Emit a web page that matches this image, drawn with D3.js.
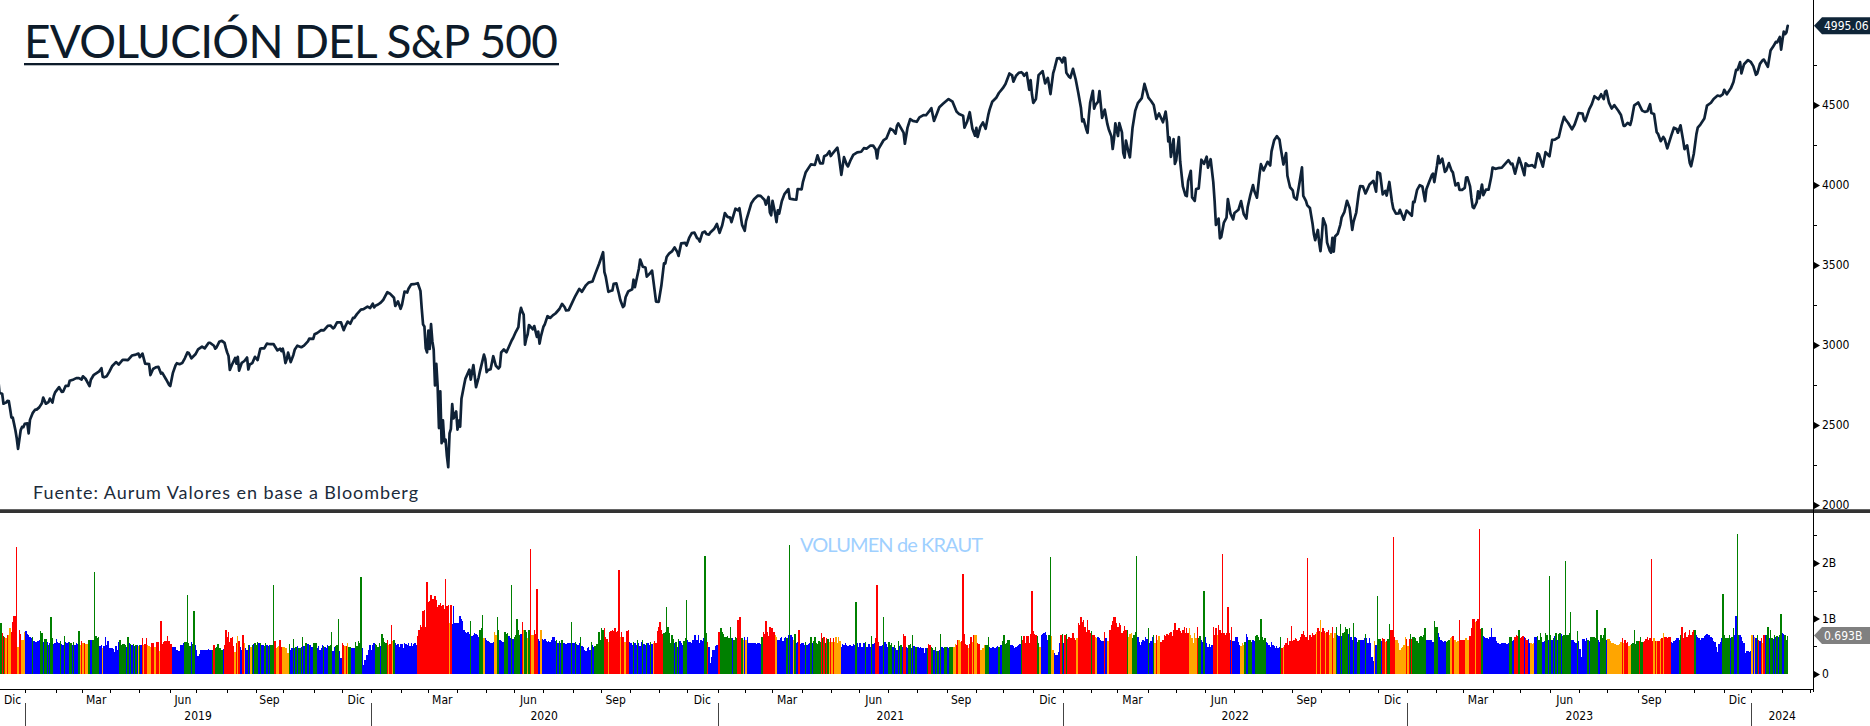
<!DOCTYPE html>
<html><head><meta charset="utf-8">
<script src="https://cdn.jsdelivr.net/npm/d3@7"></script>
<style>
html,body{margin:0;padding:0;background:#fff;overflow:hidden;}
svg{display:block;}
.ax text,.axt{font-family:"DejaVu Sans Condensed","Liberation Sans Narrow","DejaVu Sans",sans-serif;font-stretch:condensed;font-size:12px;fill:#000;}
</style></head><body>
<svg id="c" width="1870" height="726"></svg>
<script>
// ---------------- DATA ----------------
const chartTitle = "EVOLUCIÓN DEL S&P 500";
const sourceNote = "Fuente: Aurum Valores en base a Bloomberg";
const volumeTitle = "VOLUMEN de KRAUT";
const monthNames = ["Ene","Feb","Mar","Abr","May","Jun","Jul","Ago","Sep","Oct","Nov","Dic"];
const labeledMonths = [2,5,8,11];
const yearLabels = [2019,2020,2021,2022,2023,2024];
const priceTicks = [2000,2500,3000,3500,4000,4500];
const priceMinorTicks = [2250,2750,3250,3750,4250,4750];
const volumeTicks = [0,1,2];
const volumeTickLabels = ["0","1B","2B"];
const volumeMinorTicks = [0.5,1.5,2.5];
const lastPrice = 4995.06;
const lastVolume = 0.693;
const krautColors = {b:"#0000ff", g:"#008000", r:"#ff0000", o:"#ffa500"};

// S&P 500 closes, "MMDD:close"
const spx2018 = "1203:2790 1204:2700 1206:2695 1207:2633 1210:2637 1211:2640 1212:2651 1213:2650 1214:2600 1217:2546 1218:2546 1219:2507 1220:2467 1221:2417 1224:2351 1226:2468 1227:2488 1228:2486 1231:2507";
const spx2019 = "0102:2510 0103:2448 0104:2532 0108:2574 0110:2597 0111:2596 0115:2610 0117:2636 0118:2671 0122:2633 0124:2643 0125:2665 0129:2640 0130:2681 0131:2704 0205:2737 0207:2707 0208:2708 0212:2745 0214:2745 0215:2776 0220:2785 0222:2793 0226:2793 0228:2784 0301:2804 0305:2789 0308:2743 0311:2783 0313:2811 0315:2822 0319:2833 0321:2855 0322:2801 0325:2798 0327:2805 0329:2834 0402:2867 0405:2893 0409:2878 0412:2907 0416:2907 0418:2905 0423:2934 0426:2940 0430:2946 0501:2924 0503:2946 0507:2884 0510:2881 0513:2812 0515:2850 0517:2860 0521:2864 0523:2822 0524:2826 0529:2783 0531:2752 0603:2744 0605:2826 0607:2873 0610:2886 0612:2880 0614:2887 0618:2917 0620:2954 0621:2950 0625:2917 0628:2942 0702:2973 0705:2990 0709:2979 0712:3014 0715:3014 0718:2995 0719:2977 0722:2986 0724:3020 0726:3026 0730:3013 0731:2980 0801:2953 0802:2932 0805:2844 0807:2884 0809:2919 0812:2883 0813:2926 0814:2840 0816:2889 0820:2900 0822:2922 0823:2847 0826:2878 0828:2887 0830:2926 0903:2906 0905:2976 0906:2979 0910:2979 0912:3009 0913:3007 0917:3005 0919:3006 0920:2992 0924:2966 0926:2977 0927:2962 0930:2977 1001:2940 1002:2887 1003:2910 1004:2952 1008:2893 1010:2938 1011:2970 1015:2996 1018:2986 1022:2996 1025:3023 1028:3040 1031:3038 1101:3067 1105:3075 1108:3093 1112:3092 1115:3120 1119:3122 1121:3104 1122:3110 1126:3141 1129:3141 1203:3093 1204:3113 1206:3146 1210:3133 1212:3169 1213:3169 1217:3193 1220:3221 1224:3224 1227:3240 1231:3231";
const spx2020 = "0102:3258 0103:3235 0106:3246 0108:3253 0110:3265 0114:3283 0117:3330 0121:3321 0124:3295 0127:3244 0129:3273 0131:3226 0203:3249 0205:3334 0207:3328 0210:3352 0212:3379 0214:3380 0219:3386 0221:3338 0224:3226 0225:3128 0226:3116 0227:2979 0228:2954 0302:3090 0303:2975 0304:3130 0305:3024 0306:2972 0309:2747 0310:2882 0311:2741 0312:2481 0313:2711 0316:2386 0317:2529 0318:2398 0319:2409 0320:2305 0323:2237 0324:2447 0325:2476 0326:2630 0327:2541 0331:2585 0401:2471 0402:2527 0403:2489 0406:2664 0408:2750 0409:2790 0414:2846 0415:2784 0417:2875 0421:2737 0423:2798 0424:2837 0429:2940 0430:2912 0501:2831 0504:2843 0506:2848 0508:2930 0512:2870 0514:2853 0515:2864 0518:2954 0520:2972 0522:2955 0526:2992 0528:3030 0529:3044 0602:3081 0604:3112 0605:3194 0608:3232 0609:3207 0610:3190 0611:3002 0612:3041 0615:3067 0616:3125 0619:3098 0622:3118 0624:3051 0625:3084 0626:3009 0629:3053 0701:3116 0702:3130 0706:3180 0708:3169 0710:3185 0714:3197 0717:3225 0721:3257 0723:3236 0724:3216 0728:3218 0731:3271 0804:3306 0807:3351 0811:3333 0814:3373 0818:3390 0821:3397 0825:3443 0828:3508 0902:3580 0903:3455 0904:3427 0908:3332 0910:3339 0911:3341 0914:3383 0916:3385 0918:3319 0921:3281 0923:3237 0924:3246 0925:3298 0929:3335 1002:3348 1005:3408 1006:3361 1009:3477 1012:3534 1014:3489 1016:3484 1019:3427 1022:3453 1023:3465 1026:3401 1028:3271 1030:3270 1103:3370 1105:3510 1106:3509 1109:3550 1111:3573 1113:3585 1117:3610 1119:3582 1120:3557 1124:3635 1127:3638 1130:3622 1202:3669 1204:3699 1208:3702 1210:3668 1211:3663 1214:3647 1216:3701 1218:3709 1221:3694 1223:3690 1224:3703 1229:3727 1231:3756";
const spx2021 = "0104:3701 0106:3748 0108:3824 0112:3801 0114:3796 0115:3768 0120:3852 0122:3841 0125:3855 0127:3751 0129:3714 0201:3774 0203:3830 0205:3886 0209:3911 0212:3934 0216:3932 0219:3906 0222:3877 0224:3925 0225:3829 0226:3811 0301:3901 0303:3820 0304:3768 0305:3842 0308:3821 0310:3898 0312:3943 0317:3974 0318:3915 0319:3913 0323:3910 0325:3909 0326:3975 0331:3973 0401:4020 0405:4078 0409:4129 0414:4125 0416:4185 0420:4135 0422:4135 0423:4180 0427:4187 0429:4211 0430:4181 0503:4193 0507:4233 0510:4189 0512:4063 0514:4174 0518:4128 0519:4116 0521:4156 0525:4188 0528:4204 0602:4208 0604:4230 0608:4227 0611:4247 0615:4246 0617:4222 0618:4166 0621:4224 0624:4267 0625:4281 0629:4291 0702:4352 0706:4343 0708:4321 0709:4370 0712:4385 0716:4327 0719:4258 0721:4359 0723:4412 0727:4401 0730:4395 0803:4423 0806:4437 0810:4436 0813:4468 0816:4480 0818:4400 0820:4442 0824:4486 0827:4509 0831:4523 0902:4537 0907:4521 0910:4459 0914:4443 0917:4433 0920:4358 0922:4395 0924:4455 0928:4352 0930:4308 1001:4357 1004:4300 1006:4363 1008:4391 1012:4351 1014:4438 1015:4471 1019:4520 1022:4545 1026:4575 1029:4605 1102:4631 1105:4697 1109:4685 1110:4646 1112:4683 1116:4701 1118:4705 1119:4698 1122:4683 1124:4701 1126:4595 1129:4655 1130:4567 1201:4513 1203:4538 1207:4687 1210:4712 1214:4635 1216:4669 1217:4620 1220:4568 1222:4697 1223:4726 1227:4791 1229:4793 1231:4766";
const spx2022 = "0103:4796 0104:4794 0105:4701 0107:4677 0110:4670 0112:4726 0114:4662 0118:4577 0120:4483 0121:4398 0124:4410 0126:4350 0127:4326 0128:4432 0131:4516 0202:4589 0203:4477 0204:4501 0208:4521 0209:4587 0210:4504 0211:4419 0215:4471 0217:4380 0218:4349 0222:4305 0223:4225 0224:4288 0225:4385 0301:4306 0302:4387 0304:4329 0307:4201 0308:4171 0309:4278 0311:4204 0314:4173 0316:4358 0318:4463 0322:4512 0325:4543 0329:4632 0401:4546 0405:4525 0407:4500 0411:4413 0413:4447 0418:4392 0420:4459 0421:4394 0422:4272 0425:4297 0426:4176 0428:4287 0429:4132 0502:4155 0504:4300 0505:4147 0509:3991 0511:3935 0512:3930 0513:4024 0517:4088 0518:3923 0520:3901 0523:3974 0525:3979 0527:4158 0531:4132 0602:4177 0603:4109 0607:4161 0609:4018 0610:3901 0613:3750 0615:3790 0616:3667 0617:3675 0621:3765 0623:3796 0624:3912 0628:3821 0630:3785 0701:3825 0706:3845 0708:3899 0712:3819 0714:3790 0715:3863 0719:3937 0721:3999 0722:3962 0726:3921 0728:4072 0729:4130 0802:4091 0805:4145 0809:4122 0810:4210 0812:4280 0816:4305 0818:4284 0819:4228 0823:4128 0825:4199 0826:4058 0830:3986 0901:3967 0902:3924 0906:3909 0908:4006 0912:4110 0913:3932 0915:3901 0916:3873 0920:3856 0922:3758 0923:3693 0926:3655 0928:3719 0929:3640 0930:3586 1003:3678 1004:3791 1006:3745 1007:3640 1011:3589 1012:3577 1013:3669 1014:3583 1017:3678 1019:3695 1021:3753 1024:3798 1026:3830 1028:3901 1101:3856 1103:3720 1104:3771 1108:3828 1110:3956 1111:3993 1115:3992 1117:3947 1118:3965 1122:4003 1125:4026 1129:3958 1130:4080 1202:4072 1206:3941 1208:3963 1209:3934 1213:4019 1215:3895 1216:3852 1220:3821 1222:3822 1223:3845 1228:3783 1230:3840";
const spx2023 = "0103:3825 0105:3808 0106:3895 0109:3893 0111:3970 0113:3999 0117:3991 0119:3899 0120:3973 0124:4017 0126:4060 0127:4071 0130:4018 0201:4120 0202:4180 0203:4136 0207:4164 0209:4082 0210:4090 0214:4137 0216:4090 0217:4079 0221:3997 0223:4012 0224:3970 0228:3970 0302:3982 0303:4046 0306:4048 0308:3992 0309:3919 0310:3862 0313:3856 0315:3892 0316:3960 0317:3917 0321:4003 0322:3937 0324:3971 0328:3971 0330:4051 0331:4109 0404:4101 0406:4105 0411:4109 0414:4137 0418:4155 0420:4130 0421:4133 0425:4071 0427:4136 0428:4169 0502:4120 0504:4061 0505:4136 0509:4119 0512:4124 0516:4110 0518:4198 0519:4192 0524:4115 0526:4205 0531:4180 0602:4282 0606:4283 0609:4299 0613:4369 0615:4426 0616:4410 0620:4389 0623:4348 0627:4378 0630:4450 0705:4446 0706:4411 0707:4399 0712:4472 0714:4505 0718:4555 0721:4536 0725:4567 0727:4537 0728:4582 0731:4589 0802:4513 0804:4478 0808:4499 0811:4464 0815:4437 0817:4370 0818:4370 0822:4388 0824:4376 0825:4406 0829:4497 0831:4508 0901:4516 0906:4465 0908:4457 0912:4461 0914:4505 0915:4450 0919:4444 0921:4330 0922:4320 0926:4274 0928:4300 0929:4288 1003:4229 1006:4308 1010:4358 1012:4350 1013:4327 1017:4373 1019:4278 1020:4224 1024:4248 1026:4137 1027:4117 1031:4194 1102:4318 1103:4358 1107:4378 1110:4415 1114:4496 1117:4514 1121:4538 1124:4559 1128:4555 1130:4568 1201:4595 1205:4567 1208:4604 1212:4644 1214:4720 1215:4719 1219:4768 1220:4698 1222:4755 1227:4781 1229:4770";
const spx2024 = "0102:4743 0104:4689 0105:4697 0109:4757 0111:4780 0112:4784 0117:4739 0119:4840 0123:4865 0125:4894 0126:4891 0130:4925 0131:4846 0201:4906 0202:4959 0205:4943 0206:4954 0207:4995.06";

// Daily volume (hundredths of a billion) with KRAUT colour class: b=blue g=green r=red o=orange
const kraut2018 = "g112 g85 g92 r73 g68 r67 o64 r70 o70 o82 r76 r94 r105 r105 r229 o49 r79 r72 o61 o62 o76";
const kraut2019 = "b77 b72 b70 b67 b64 g66 b60 b57 b58 b60 b62 g77 g74 b58 g63 g63 b58 g52 b55 g103 g65 b54 b56 " +
 "b63 b58 b55 g60 b54 b53 g68 b58 b55 b57 g57 g55 b52 g58 b52 b55 b54 g77 o52 r59 " +
 "o55 r56 o54 o54 g61 g61 b61 g61 g61 g184 g68 g64 g66 b51 b52 o46 b50 b66 b52 b60 b46 " +
 "b46 b46 b45 b40 b50 b43 b58 g61 g52 g54 g54 g52 b49 g67 b55 g54 b52 g54 b50 g53 b52 o51 " +
 "g53 b52 r64 o52 r54 r64 o52 o50 o49 r56 r56 o49 o48 r58 r57 o41 r95 r54 r58 r60 r60 r68 r60 " +
 "r54 r54 b49 b49 b49 b43 b42 b42 b52 b52 b55 g57 g57 g143 g55 g50 b57 g54 g114 b52 " +
 "b43 b32 b36 b43 b43 b43 b43 b43 b43 b45 b43 b43 g44 r53 g46 g49 g54 g46 g46 g44 b45 r53 r80 " +
 "r67 r76 r58 r64 r66 r50 o40 r55 o68 r59 b49 b43 r70 o55 b46 b43 g52 b53 o49 g53 b54 g55 " +
 "g52 g57 b56 g55 b53 b53 g50 g55 b52 g51 b52 g53 g53 g160 r60 o46 o48 o50 r61 r49 o49 " +
 "o49 o47 o46 o37 g54 b44 b46 g63 b46 g48 b50 g47 g47 b48 g67 b51 g56 g56 b54 g53 b52 b48 g56 " +
 "g55 g55 b46 b50 b43 b46 b52 g50 b48 b46 b52 g50 g52 g76 b41 b48 g50 g52 g99 b41 b29 " +
 "r55 r52 o50 r50 o56 g48 g48 b46 b46 b46 g58 g50 g60 g55 g175 b46 b16 b26 b34 b35 b43 b52";
const kraut2020 = "b43 b52 b56 g54 g52 g49 g55 b50 g72 g64 g58 g55 r61 o52 r54 r88 o60 g61 b55 b52 b54 b49 b54 " +
 "b54 b46 b55 b54 b52 b55 b50 b55 b50 b54 b55 b52 r68 r79 r88 r84 r114 r115 r85 r166 " +
 "r130 r132 r142 r135 r135 r140 r134 r121 r125 r128 r122 r124 r118 r172 r122 r124 o92 r125 b90 b123 b91 b92 " +
 "b92 b92 b105 b100 b96 b80 b76 b74 b75 b72 g96 b68 b70 b73 b72 b70 b66 g80 g83 g106 o64 b64 " +
 "b62 b60 b57 b55 b55 b58 o76 o70 g103 g79 b62 b60 b58 b58 g76 g72 g73 b68 b65 g160 b63 " +
 "g67 g70 g100 g80 g70 b72 r94 o79 g79 g75 o64 g79 r225 o70 o70 r79 r72 r153 b63 b60 o80 b63 " +
 "b62 b63 b60 b58 b60 b58 b62 b66 b66 b60 g61 b55 g60 b56 g62 b55 b55 b54 b56 b55 b56 g94 b56 " +
 "b56 g58 b54 b52 b55 g66 b50 b48 b44 b42 b46 b48 b44 g58 b52 b48 g50 g54 g54 g76 g62 " +
 "g83 g80 r82 r67 r63 o58 r76 r78 r80 r78 r82 r76 r78 r187 o66 r75 r67 o58 o58 r78 r80 b58 " +
 "b56 b52 g58 b55 b52 g61 b55 b50 b57 g61 b54 b52 g55 b55 b52 g58 b54 o55 r60 r56 r77 r85 " +
 "r94 r80 r72 g73 g75 g120 g85 g73 g56 g70 g63 b56 g57 b49 g63 b60 b55 b52 g60 g65 g133 " +
 "b61 b57 b58 b56 b61 b70 b70 b61 b70 b56 b62 b60 b64 g213 g73 r58 b48 b19 b30 b43 b43 b50 b52";
const kraut2021 = "r76 r76 g83 g75 g72 g66 g66 g69 g65 g85 g65 b64 g62 g67 g65 r97 r103 r103 g64 o62 b66 " +
 "o62 b66 b55 b56 b55 b56 b55 b56 b54 b55 b56 b54 g67 r76 r72 r95 r76 r68 r85 r82 " +
 "r82 r76 o70 o67 b61 b62 b64 b67 b60 b64 b67 g65 b70 g232 b70 b67 o62 g72 b55 b58 r79 b54 b55 " +
 "b55 b52 g58 b53 b54 b55 g67 b56 g59 g67 g55 g54 g59 g58 r73 g65 r67 g55 r64 g63 o58 r65 " +
 "o58 r65 o57 o67 o56 o67 o60 b49 b54 b52 b55 b52 b50 b53 b52 b50 b54 b52 g130 b56 b49 " +
 "b56 b49 b49 b55 g58 b49 b48 b54 b48 g69 b54 b55 r65 r160 r58 b50 b51 b52 g103 b58 b54 b49 " +
 "g58 g52 g55 b49 g52 b46 b44 g60 b50 g52 b49 r72 r68 b49 b46 g52 g54 b46 g70 b50 g49 g48 " +
 "b48 b46 b48 b46 b46 b38 b46 g46 r54 r52 g49 g46 b43 g49 b42 g42 b43 g72 b49 b46 g48 g48 " +
 "b49 b46 g48 g48 g48 o49 o54 r52 r61 o62 o58 r60 r180 r72 r54 r52 o46 r54 r66 o58 r70 o70 " +
 "o70 r56 r54 o44 o44 o47 o52 g52 g52 g66 b48 b46 b48 b48 b46 b49 b50 g49 b52 b52 g60 " +
 "g70 g54 g56 g61 g61 b53 b53 b50 b46 b49 b50 b52 b54 g68 r62 r68 r55 r69 r68 r55 r72 r150 " +
 "r77 r72 r70 g68 g56 o49 b70 b72 b73 b75 b70 b62 g70 g211 o68 o44 b37 b34 b34 b40 b56 r70 g72";
const kraut2022 = "b56 r70 g72 r63 r66 r64 r65 r73 r64 r62 o64 r91 r88 r103 r94 r97 r85 r76 r97 r80 r73 " +
 "g77 r70 r70 o67 o64 b67 b64 b62 b60 b60 r76 b65 o60 o60 r79 r88 r95 r103 r102 r92 " +
 "r85 r91 r88 r73 r77 r86 r80 g79 o66 o72 o74 g64 g70 g75 g213 b67 b58 b52 b58 b61 b60 b67 b63 " +
 "g82 b55 b60 b67 g70 o55 r70 o61 o68 r58 r58 r62 r70 r68 r72 r70 r73 r75 r68 r80 r91 " +
 "r80 r80 r82 r78 r73 r79 r84 r73 r82 r73 o82 o70 o64 o56 o73 o64 r84 g64 g68 b62 b58 g150 " +
 "b67 b55 b49 b54 b49 b52 r85 r70 r82 o70 r88 r80 r73 r217 r73 r70 r73 r121 r73 b61 r84 b60 " +
 "b60 b66 b66 b58 b52 o50 o55 o52 g58 b72 b67 g61 g62 g58 b61 b60 g68 g70 g66 g62 g100 " +
 "g67 g61 g64 b58 b55 b52 b49 b58 b52 b50 b46 b50 b46 b48 g67 r47 o49 r52 r55 r64 r52 r60 r86 " +
 "r60 r62 r64 r63 r59 r62 r67 r72 r78 r70 r66 r209 r61 r70 r67 r73 r70 r72 o76 r82 r78 o97 " +
 "r75 r82 r78 o73 r75 r80 o70 o73 r85 o64 o73 g84 b70 b68 g90 b68 g73 g76 g84 g81 b72 " +
 "g82 b66 b61 g91 b67 b64 g58 g61 b61 b62 b62 b64 g72 b64 b55 b64 b55 b30 b23 o60 b52 g141 " +
 "g63 g63 b60 r64 r63 o58 r59 g63 g90 r79 r80 r246 r67 o61 o61 o55 o43 o46 o49 o52 o67 r63";
const kraut2023 = "o50 r63 g72 r63 g67 g67 g64 g60 g56 g66 g68 g67 g70 g82 b61 b61 b62 b61 b61 b58 g95 g85 " +
 "g85 b73 b66 b61 b60 b58 b60 g58 g60 g62 o64 o67 r68 o61 o61 o58 o60 r97 r61 r61 " +
 "r61 r61 o64 o61 o62 r68 r82 r100 r99 o94 r96 r100 r262 r81 g82 b69 b66 b64 b64 b63 b66 b82 b66 " +
 "b66 b66 b60 b55 b54 b54 b56 b55 b55 b55 b54 b55 g66 g67 b60 b62 r67 r70 r68 g79 " +
 "r64 r67 r68 b67 r64 r62 b63 b55 o55 o54 o55 b67 b66 g68 g61 g73 g67 b58 b60 g73 g70 b62 g176 " +
 "g70 b61 g64 b69 g73 b61 g72 g73 b72 g68 g70 g203 g70 g70 g74 g111 b61 b61 b58 b55 g77 b60 " +
 "b45 b30 b63 b63 b60 b64 g61 b60 g66 g67 g67 g66 g64 g115 b61 b58 g71 g64 g70 g83 b62 " +
 "o63 o63 o60 o55 o56 o54 o54 o52 o52 o54 o58 r65 o55 r62 r55 r58 o50 o52 g54 g56 g79 g54 g60 " +
 "g60 r60 g67 g58 r57 r60 r63 r66 r62 r64 r208 r60 o64 r60 o60 r60 r60 o63 r64 o73 r67 " +
 "r67 r65 r66 r66 b58 b56 b59 b62 b64 b64 g62 g70 r84 r64 r73 r76 r67 r70 r79 r70 r75 r79 " +
 "g79 b70 b67 b64 b62 b65 b65 b68 b70 b72 b70 b70 b66 b64 b60 b58 b49 b40 b54 b57 b64 g144 " +
 "g70 g64 g64 g65 g70 b64 g66 g82 b70 b105 g252 g70 b70 b67 b60 b55 b37 b42 b41 b40 b42";
const kraut2024 = "o70 b70 o67 b64 g70 r62 b60 r64 o56 r70 b70 g70 g84 b64 g79 g64 b63 g70 b66 g68 b66 g70 g108 " +
 "b73 b72 g70 g62 g69.3";

// ---------------- HELPERS ----------------
const BASE = Date.UTC(2018, 11, 3); // Monday
function wdIndex(yr, m, d) {
  const days = Math.round((Date.UTC(yr, m, d) - BASE) / 864e5);
  const w = Math.floor(days / 7), r = ((days % 7) + 7) % 7;
  return w * 5 + Math.min(r, 4);
}
function firstWeekday(yr, m) {
  let d = 1;
  while ([0, 6].includes(new Date(Date.UTC(yr, m, d)).getUTCDay())) d++;
  return wdIndex(yr, m, d);
}

const priceYears = [[2018, spx2018], [2019, spx2019], [2020, spx2020], [2021, spx2021], [2022, spx2022], [2023, spx2023], [2024, spx2024]];
const prices = [];
priceYears.forEach(([yr, s]) => s.trim().split(/\s+/).forEach(t => {
  const [md, v] = t.split(":");
  prices.push({ i: wdIndex(yr, +md.slice(0, 2) - 1, +md.slice(2)), v: +v });
}));

const volYears = [[2018, kraut2018], [2019, kraut2019], [2020, kraut2020], [2021, kraut2021], [2022, kraut2022], [2023, kraut2023], [2024, kraut2024]];
const bars = [];
volYears.forEach(([yr, s]) => {
  const i0 = yr === 2018 ? 0 : firstWeekday(yr, 0);
  s.trim().split(/\s+/).forEach((t, k) => bars.push({ i: i0 + k, c: t[0], v: +t.slice(1) / 100 }));
});

// ---------------- LAYOUT ----------------
const svg = d3.select("#c");
const axisX = 1813;
const x = d3.scaleLinear().domain([21, 1325]).range([26, 1752]);
const y = d3.scaleLinear().domain([2000, 5000]).range([505, 25]);
const yv = d3.scaleLinear().domain([0, 1]).range([674, 618.5]);
const navy = "#0f2237";

const defs = svg.append("defs");
defs.append("clipPath").attr("id", "cp1").append("rect").attr("x", 0).attr("y", 0).attr("width", axisX).attr("height", 509);
defs.append("clipPath").attr("id", "cp2").append("rect").attr("x", 0).attr("y", 513).attr("width", axisX).attr("height", 176);

// Volume bars
svg.append("g").attr("clip-path", "url(#cp2)").selectAll("rect").data(bars).join("rect")
  .attr("x", d => Math.round(x(d.i - 0.5)))
  .attr("width", d => Math.round(x(d.i + 0.5)) - Math.round(x(d.i - 0.5)))
  .attr("y", d => Math.round(yv(d.v)))
  .attr("height", d => Math.round(yv(0)) - Math.round(yv(d.v)))
  .attr("fill", d => krautColors[d.c])
  .attr("shape-rendering", "crispEdges");

// Price line
svg.append("g").attr("clip-path", "url(#cp1)").append("path")
  .datum(prices)
  .attr("d", d3.line().x(d => x(d.i)).y(d => y(d.v)))
  .attr("fill", "none").attr("stroke", navy).attr("stroke-width", 2.7)
  .attr("stroke-linejoin", "round").attr("stroke-linecap", "round");

// Panel separator
svg.append("rect").attr("x", 0).attr("y", 509).attr("width", 1870).attr("height", 4).attr("fill", "#333").attr("shape-rendering", "crispEdges");
svg.append("rect").attr("x", 0).attr("y", 509).attr("width", 1870).attr("height", 1).attr("fill", "#666").attr("shape-rendering", "crispEdges");

// Right axes
svg.append("line").attr("x1", axisX + 0.5).attr("x2", axisX + 0.5).attr("y1", 0).attr("y2", 692).attr("stroke", "#000").attr("shape-rendering", "crispEdges");
const tri = "M1,-3.5L7,0L1,3.5Z";
function rightAxis(scale, vals, fmt, minor) {
  const g = svg.append("g").attr("class", "ax").attr("transform", `translate(${axisX},0)`)
    .call(d3.axisRight(scale).tickValues(vals).tickSize(0).tickPadding(9).tickFormat(fmt));
  g.select(".domain").remove();
  g.selectAll(".tick").append("path").attr("d", tri).attr("fill", "#000");
  const gm = svg.append("g").attr("transform", `translate(${axisX},0)`)
    .call(d3.axisRight(scale).tickValues(minor).tickSize(4).tickFormat(""));
  gm.select(".domain").remove();
  gm.selectAll("line").attr("stroke", "#000").attr("shape-rendering", "crispEdges");
}
rightAxis(y, priceTicks, d3.format("d"), priceMinorTicks);
rightAxis(yv, volumeTicks, (d, i) => volumeTickLabels[i], volumeMinorTicks);

// Last value tags
function tag(yc, color, txt) {
  const g = svg.append("g");
  g.append("path").attr("d", `M1814,${yc}L1822,${yc - 8.5}L1870,${yc - 8.5}L1870,${yc + 8.5}L1822,${yc + 8.5}Z`).attr("fill", color);
  g.append("text").attr("class", "axt").attr("x", 1824).attr("y", yc + 4.3).style("fill", "#fff").text(txt);
}
tag(y(lastPrice), "#0f2538", d3.format(".2f")(lastPrice));
tag(yv(lastVolume), "#808080", d3.format(".3f")(lastVolume) + "B");

// Bottom time axis
const months = [];
for (let yr = 2018; yr <= 2024; yr++) for (let m = 0; m < 12; m++) {
  if (yr === 2018 && m < 11) continue;
  if (yr === 2024 && m > 3) continue;
  months.push({ yr, m, i: yr === 2018 && m === 11 ? 0 : firstWeekday(yr, m) });
}
const tickIdx = months.slice(1).map(d => d.i - 0.5).filter(v => x(v) <= axisX);
const gb = svg.append("g").attr("class", "ax").attr("transform", "translate(0,689)")
  .call(d3.axisBottom(x).tickValues(tickIdx).tickSize(4).tickFormat(""));
gb.select(".domain").remove();
gb.selectAll("line").attr("stroke", "#000").attr("shape-rendering", "crispEdges");
svg.append("line").attr("x1", 0).attr("x2", axisX + 1).attr("y1", 689.5).attr("y2", 689.5).attr("stroke", "#000").attr("shape-rendering", "crispEdges");

const lastIdx = d3.max(bars, d => d.i);
for (let k = 0; k < months.length - 1; k++) {
  const mo = months[k];
  if (!labeledMonths.includes(mo.m) || mo.i > lastIdx) continue;
  const x0 = Math.max(0, x(mo.i - 0.5)), x1 = Math.min(axisX, x(months[k + 1].i - 0.5));
  svg.append("text").attr("class", "axt").attr("x", (x0 + x1) / 2).attr("y", 704).attr("text-anchor", "middle").text(monthNames[mo.m]);
}
yearLabels.forEach(yr => {
  const s = x(firstWeekday(yr, 0) - 0.5);
  const e = Math.min(axisX, x(firstWeekday(yr + 1, 0) - 0.5));
  svg.append("line").attr("x1", Math.round(s) + 0.5).attr("x2", Math.round(s) + 0.5).attr("y1", 703).attr("y2", 726).attr("stroke", "#444").attr("shape-rendering", "crispEdges");
  svg.append("text").attr("class", "axt").attr("x", (s + e) / 2).attr("y", 720).attr("text-anchor", "middle").text(yr);
});

// Titles
svg.append("text").attr("x", 24).attr("y", 58)
  .attr("font-family", "Lato, 'Open Sans', 'Noto Sans', sans-serif").attr("font-size", 46)
  .attr("fill", "#0d1b2a").attr("textLength", 534).attr("lengthAdjust", "spacing").text(chartTitle);
svg.append("rect").attr("x", 24).attr("y", 63).attr("width", 535).attr("height", 2.3).attr("fill", "#0d1b2a");
svg.append("text").attr("x", 33).attr("y", 499)
  .attr("font-family", "Lato, 'Open Sans', 'Noto Sans', sans-serif").attr("font-size", 18)
  .attr("fill", "#1b2b3b").attr("textLength", 385).attr("lengthAdjust", "spacing").text(sourceNote);
svg.append("text").attr("x", 800).attr("y", 552)
  .attr("font-family", "Lato, 'Open Sans', 'Noto Sans', sans-serif").attr("font-size", 20)
  .attr("fill", "#9fd0ff").attr("textLength", 183).attr("lengthAdjust", "spacing").text(volumeTitle);
</script></body></html>
